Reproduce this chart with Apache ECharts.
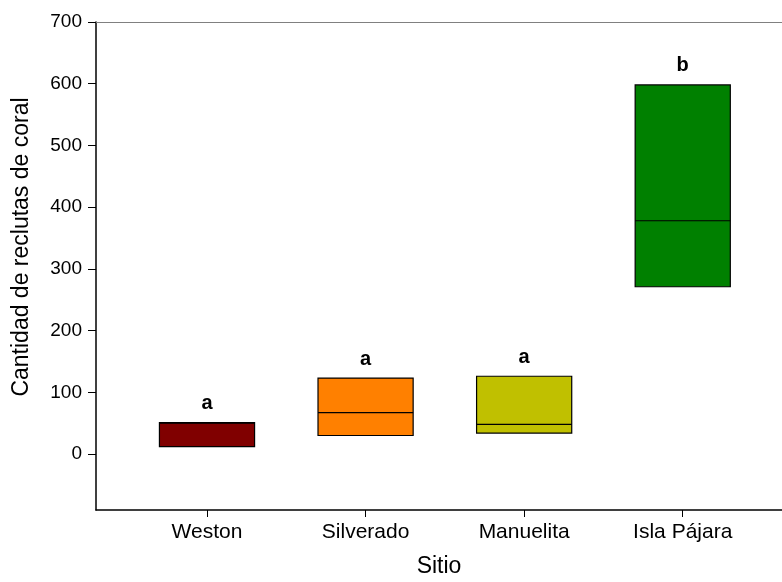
<!DOCTYPE html>
<html>
<head>
<meta charset="utf-8">
<script src="https://cdn.jsdelivr.net/npm/echarts@6/dist/echarts.min.js"></script>
<style>
  html, body { margin: 0; padding: 0; background: #fff; }
  #main { width: 782px; height: 582px; }
</style>
</head>
<body>
<div id="main"></div>
<script>
const sites = ["Weston", "Silverado", "Manuelita", "Isla Pájara"];
const q1 = [12, 30, 34, 271];
const median = [50, 67, 48, 378];
const q3 = [51, 123, 126, 598];
const letters = ["a", "a", "a", "b"];
const colors = ["#800000", "#ff8000", "#c0c000", "#008000"];
const yTicks = [0, 100, 200, 300, 400, 500, 600, 700];

const myChart = echarts.init(document.getElementById("main"));

const boxData = sites.map((s, i) => [i + 1, q1[i], median[i], q3[i]]);

const options = {
  animation: false,
  grid: { left: 96, right: 0, top: 22, bottom: 72, containLabel: false, outerBoundsMode: "none" },
  xAxis: [
    {
      type: "value",
      min: 0.3,
      max: 4.626,
      name: "Sitio",
      nameLocation: "middle",
      nameGap: 45,
      nameTextStyle: { fontFamily: "Liberation Sans", fontSize: 23, color: "#000" },
      splitLine: { show: false },
      axisLine: { onZero: false, lineStyle: { color: "#000", width: 1.5 } },
      axisTick: { customValues: [1, 2, 3, 4], length: 7, lineStyle: { color: "#000" } },
      axisLabel: {
        customValues: [1, 2, 3, 4],
        formatter: (v) => sites[Math.round(v) - 1],
        margin: 12,
        fontFamily: "Liberation Sans",
        fontSize: 21,
        color: "#000",
      },
    },
    {
      type: "value",
      position: "top",
      min: 0.3,
      max: 4.626,
      splitLine: { show: false },
      axisLine: { onZero: false, lineStyle: { color: "#808080", width: 1 } },
      axisTick: { show: false },
      axisLabel: { show: false },
    },
  ],
  yAxis: {
    type: "value",
    min: -90.7,
    max: 700,
    splitLine: { show: false },
    axisLine: { show: true, onZero: false, lineStyle: { color: "#000", width: 1.5 } },
    axisTick: { show: true, customValues: yTicks, length: 8, lineStyle: { color: "#000" } },
    axisLabel: {
      customValues: yTicks,
      margin: 14,
      fontFamily: "Liberation Sans",
      fontSize: 19,
      color: "#000",
    },
  },
  graphic: [
    {
      type: "text",
      x: 22,
      y: 247,
      rotation: Math.PI / 2,
      style: {
        text: "Cantidad de reclutas de coral",
        font: "23px Liberation Sans",
        fill: "#000",
        align: "center",
        verticalAlign: "middle",
      },
    },
  ],
  series: [
    {
      type: "custom",
      data: boxData,
      renderItem: (params, api) => {
        const i = params.dataIndex;
        const x = api.value(0);
        const lo = api.coord([x - 0.3, api.value(1)]);
        const mid = api.coord([x, api.value(2)]);
        const hi = api.coord([x + 0.3, api.value(3)]);
        return {
          type: "group",
          children: [
            {
              type: "rect",
              shape: { x: lo[0], y: hi[1], width: hi[0] - lo[0], height: lo[1] - hi[1] },
              style: { fill: colors[i], stroke: "#000", lineWidth: 1.2 },
            },
            {
              type: "line",
              shape: { x1: lo[0], y1: mid[1], x2: hi[0], y2: mid[1] },
              style: { stroke: "#000", lineWidth: 1.2 },
            },
            {
              type: "text",
              x: mid[0],
              y: hi[1] - 19,
              style: {
                text: letters[i],
                font: "bold 20px Liberation Sans",
                fill: "#000",
                align: "center",
                verticalAlign: "middle",
              },
            },
          ],
        };
      },
    },
  ],
};

myChart.setOption(options);
</script>
</body>
</html>
